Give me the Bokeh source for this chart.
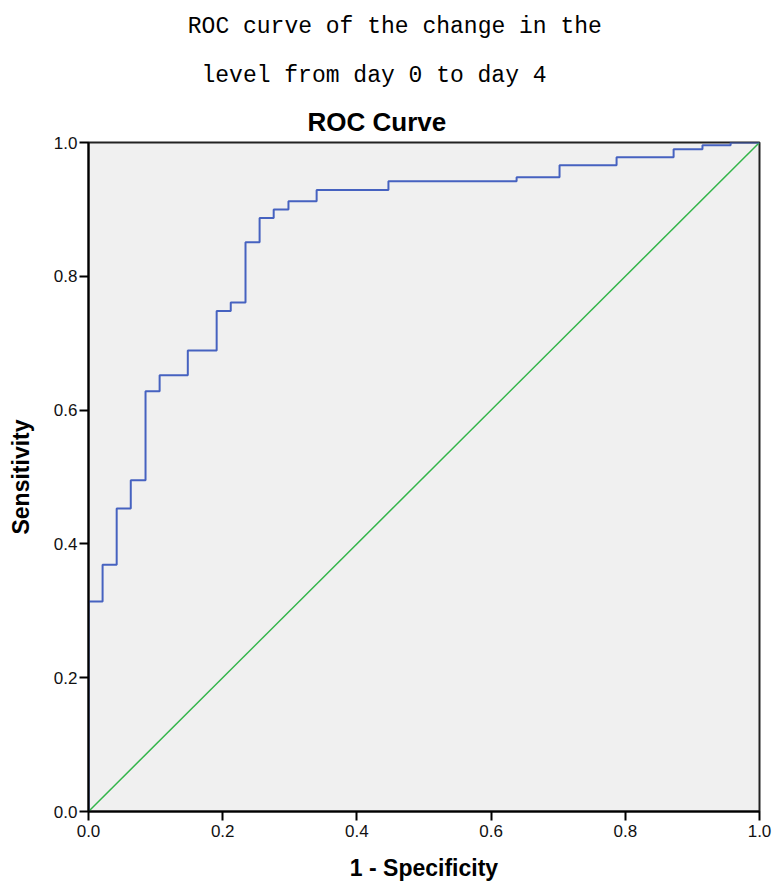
from bokeh.plotting import figure
from bokeh.models import Range1d, FixedTicker, Title
from bokeh.embed import file_html
from bokeh.resources import INLINE

# ROC step points (1 - specificity, sensitivity)
fpr = [0.0, 0.0, 0.021, 0.042, 0.063, 0.085, 0.106, 0.148, 0.191, 0.212, 0.234,
       0.255, 0.276, 0.298, 0.340, 0.447, 0.638, 0.702, 0.787, 0.872, 0.915, 0.957, 1.0]
tpr = [0.0, 0.314, 0.369, 0.453, 0.495, 0.628, 0.652, 0.689, 0.748, 0.761, 0.851,
       0.887, 0.900, 0.912, 0.929, 0.942, 0.948, 0.966, 0.978, 0.990, 0.996, 1.0, 1.0]
ref_x = [0.0, 1.0]
ref_y = [0.0, 1.0]
ticks = [0.0, 0.2, 0.4, 0.6, 0.8, 1.0]
tick_labels = {0.0: "0.0", 0.2: "0.2", 0.4: "0.4", 0.6: "0.6", 0.8: "0.8", 1.0: "1.0"}
title_lines = ["ROC curve of the change in the", "level from day 0 to day 4"]
chart_title = "ROC Curve"
x_label = "1 - Specificity"
y_label = "Sensitivity"

W, H = 772, 884
L, R, T, B = 88, 13, 142, 73

p = figure(width=W, height=H, output_backend="svg", toolbar_location=None,
           x_range=Range1d(0, 1), y_range=Range1d(0, 1),
           min_border_left=L, min_border_right=R, min_border_top=T, min_border_bottom=B)
p.background_fill_color = "#f0f0f0"
p.border_fill_color = "white"
p.outline_line_color = "#222222"
p.outline_line_width = 2
p.grid.visible = False

# outermost title line
p.title.text = title_lines[0]
p.title.align = "left"
p.title.offset = 99.3
p.title.standoff = 22.6
p.title.text_font = "Liberation Mono"
p.title.text_font_style = "normal"
p.title.text_font_size = "23px"
p.title.text_color = "black"

# closest to the frame first
p.add_layout(Title(text=chart_title, align="left", offset=219, standoff=11.8,
                   text_font="Liberation Sans", text_font_style="bold",
                   text_font_size="26px", text_color="black"), "above")
p.add_layout(Title(text=title_lines[1], align="left", offset=113, standoff=18.6,
                   text_font="Liberation Mono", text_font_style="normal",
                   text_font_size="23px", text_color="black"), "above")

for ax in (p.xaxis[0], p.yaxis[0]):
    ax.ticker = FixedTicker(ticks=ticks)
    ax.major_label_overrides = tick_labels
    ax.axis_line_color = "black"
    ax.axis_line_width = 2
    ax.major_tick_line_color = "black"
    ax.major_tick_line_width = 2
    ax.major_tick_in = 0
    ax.major_tick_out = 9
    ax.minor_tick_line_color = None
    ax.major_label_text_font = "Liberation Sans"
    ax.major_label_text_font_size = "17px"
    ax.major_label_text_color = "#111111"
    ax.axis_label_text_font = "Liberation Sans"
    ax.axis_label_text_font_style = "bold"
    ax.axis_label_text_font_size = "23px"
    ax.axis_label_text_color = "black"

p.xaxis[0].major_label_standoff = 4
p.yaxis[0].major_label_standoff = 2
p.xaxis[0].axis_label = x_label
p.xaxis[0].axis_label_standoff = 15
p.yaxis[0].axis_label = y_label
p.yaxis[0].axis_label_standoff = 17

p.line(ref_x, ref_y, line_color="#33b54a", line_width=1.5)
p.step(fpr, tpr, mode="after", line_color="#4662c0", line_width=2)

open("out.html", "w").write(file_html(p, INLINE))
